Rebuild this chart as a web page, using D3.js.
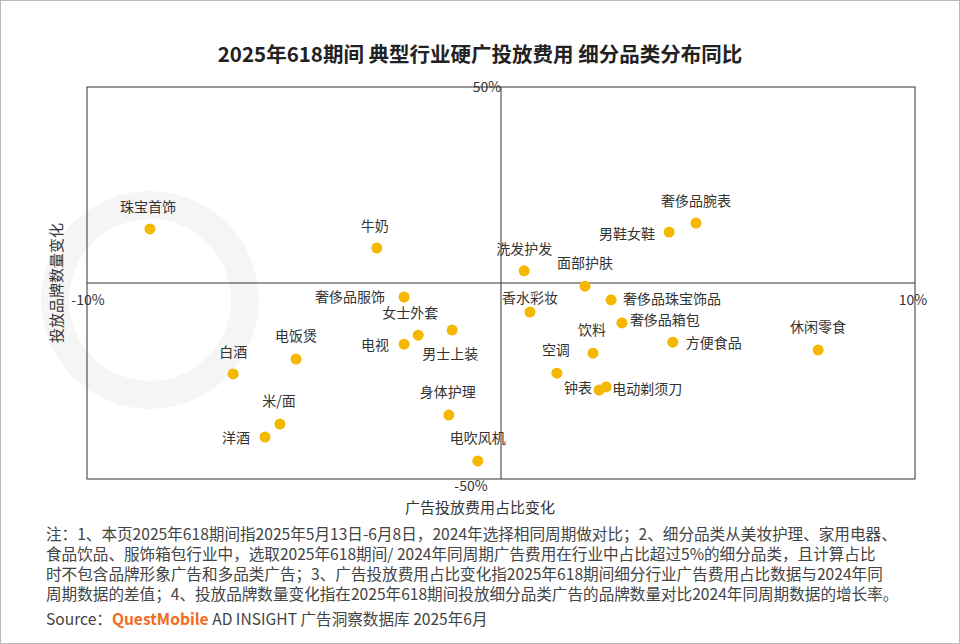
<!DOCTYPE html>
<html><head><meta charset="utf-8">
<script src="https://cdn.jsdelivr.net/npm/d3@7"></script>
<style>body{margin:0;background:#fff;font-family:"Noto Sans CJK SC","Noto Sans",sans-serif;}</style>
</head><body><svg id="chart" width="960" height="644"></svg>
<script>
const names = ['珠宝首饰','牛奶','奢侈品腕表','男鞋女鞋','洗发护发','面部护肤','奢侈品服饰','奢侈品珠宝饰品','香水彩妆','女士外套','男士上装','奢侈品箱包','电视','电饭煲','饮料','方便食品','休闲零食','白酒','空调','钟表','电动剃须刀','身体护理','米/面','洋酒','电吹风机'];
const shareChange = [-8.48,-3.0,4.71,4.06,0.56,2.03,-2.34,2.66,0.70,-2.0,-1.18,2.92,-2.34,-4.95,2.22,4.15,7.66,-6.47,1.35,2.37,2.54,-1.26,-5.34,-5.70,-0.56];
const brandChange = [13.8,8.9,15.3,13.0,3.1,-0.8,-3.6,-4.3,-7.4,-13.3,-12.0,-10.2,-15.6,-19.4,-17.9,-15.1,-17.1,-23.2,-23.0,-27.3,-26.5,-33.7,-36.0,-39.3,-45.4];
// label placement: [dx, dy, anchor]
const labelPos = [[-2,-22,'middle'],[-2,-22,'middle'],[0,-22,'middle'],[-14,2,'end'],[0,-22,'middle'],[0,-23,'middle'],[-19,0,'end'],[12,-1,'start'],[0,-14,'middle'],[-8,-22,'middle'],[-2,24,'middle'],[8,-3,'start'],[-15,1,'end'],[0,-23,'middle'],[-1,-23,'middle'],[13,1,'start'],[0,-23,'middle'],[0,-22,'middle'],[-1,-23,'middle'],[-7,-2,'end'],[6,2,'start'],[-1,-23,'middle'],[-1,-23,'middle'],[-15,1,'end'],[0,-23,'middle']];
const notes = ['注：1、本页2025年618期间指2025年5月13日-6月8日，2024年选择相同周期做对比；2、细分品类从美妆护理、家用电器、',
'食品饮品、服饰箱包行业中，选取2025年618期间/ 2024年同周期广告费用在行业中占比超过5%的细分品类，且计算占比',
'时不包含品牌形象广告和多品类广告；3、广告投放费用占比变化指2025年618期间细分行业广告费用占比数据与2024年同',
'周期数据的差值；4、投放品牌数量变化指在2025年618期间投放细分品类广告的品牌数量对比2024年同周期数据的增长率。'];

const svg = d3.select('#chart');
svg.append('rect').attr('x',0.5).attr('y',0.5).attr('width',959).attr('height',643).attr('fill','#fff').attr('stroke','#bbb');

const x = d3.scaleLinear().domain([-10,10]).range([87,915]);
const y = d3.scaleLinear().domain([-50,50]).range([479,87]);

// watermark logo ring
svg.append('circle').attr('cx',150).attr('cy',300).attr('r',95).attr('fill','none').attr('stroke','#000').attr('stroke-opacity',0.04).attr('stroke-width',28);

svg.append('text').attr('x',480).attr('y',62).attr('text-anchor','middle').attr('font-size',20.5).attr('font-weight','bold').attr('fill','#222').text('2025年618期间 典型行业硬广投放费用 细分品类分布同比');

svg.append('rect').attr('x',87).attr('y',87).attr('width',828).attr('height',392).attr('fill','none').attr('stroke','#333').attr('stroke-width',1);
svg.append('line').attr('x1',x(-10)).attr('x2',x(10)).attr('y1',y(0)).attr('y2',y(0)).attr('stroke','#333');
svg.append('line').attr('x1',x(0)).attr('x2',x(0)).attr('y1',y(-50)).attr('y2',y(50)).attr('stroke','#333');

function t(xp,yp,s,anchor){return svg.append('text').attr('x',xp).attr('y',yp).attr('text-anchor',anchor||'middle').attr('font-size',14).attr('fill','#333').text(s);}
t(x(0)-14,y(50)+5,'50%','middle');
t(x(0)-30,y(-50)+12,'-50%','middle');
t(x(-10)+1,y(0)+22,'-10%','middle');
t(x(10)-2,y(0)+22,'10%','middle');

svg.append('text').attr('x',480).attr('y',513).attr('text-anchor','middle').attr('font-size',15).attr('fill','#333').text('广告投放费用占比变化');
svg.append('text').attr('transform',`translate(62,${y(0)}) rotate(-90)`).attr('text-anchor','middle').attr('font-size',15).attr('fill','#333').text('投放品牌数量变化');

const data = names.map((n,i)=>({n,x:shareChange[i],y:brandChange[i],p:labelPos[i]}));
svg.selectAll('circle.pt').data(data).join('circle').attr('class','pt')
  .attr('cx',d=>x(d.x)).attr('cy',d=>y(d.y)).attr('r',5.5).attr('fill','#f5b800');
svg.selectAll('text.lb').data(data).join('text').attr('class','lb')
  .attr('x',d=>x(d.x)+d.p[0]).attr('y',d=>y(d.y)+d.p[1]+5).attr('text-anchor',d=>d.p[2])
  .attr('font-size',14).attr('fill','#333').text(d=>d.n);

notes.forEach((s,i)=>svg.append('text').attr('x',46).attr('y',540+i*20).attr('font-size',15.6).attr('fill','#444').text(s));
const src = svg.append('text').attr('x',46).attr('y',625).attr('font-size',15.6).attr('fill','#444');
src.append('tspan').text('Source：');
src.append('tspan').attr('fill','#f26b1d').attr('font-weight','bold').text('QuestMobile');
src.append('tspan').text(' AD INSIGHT 广告洞察数据库 2025年6月');
</script></body></html>
